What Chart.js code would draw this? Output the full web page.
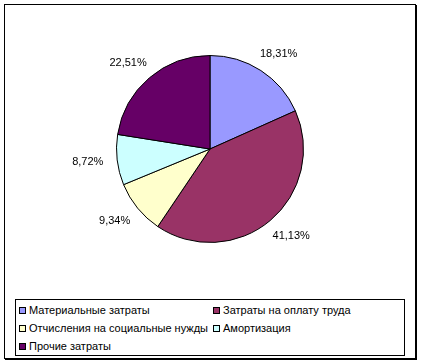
<!DOCTYPE html>
<html>
<head>
<meta charset="utf-8">
<script src="https://cdn.jsdelivr.net/npm/chart.js@4.4.1/dist/chart.umd.min.js"></script>
<style>
  html, body { margin:0; padding:0; background:#fff; }
  body { width:422px; height:364px; position:relative; overflow:hidden; font-family:Arial, "Liberation Sans", sans-serif; }
  .frame { position:absolute; left:4px; top:4px; width:410px; height:353px; border:1px solid #000; box-shadow:1px 1px 0 #000; }
  .chartbox { position:absolute; left:0; top:0; width:422px; height:298px; }
  #legend { position:absolute; left:15px; top:299px; width:388px; height:55px; border:1px solid #000; font-size:11px; color:#000; }
  #legend .entry { position:absolute; height:18px; line-height:18px; white-space:nowrap; }
  #legend .sw { display:inline-block; width:5px; height:5px; border:1px solid #000; margin-right:3px; vertical-align:0px; }
</style>
</head>
<body>
<div class="frame"></div>
<div class="chartbox"><canvas id="pie"></canvas></div>
<div id="legend"></div>
<script>
const labels = ['Материальные затраты', 'Затраты на оплату труда', 'Отчисления на социальные нужды', 'Амортизация', 'Прочие затраты'];
const values = [18.31, 41.13, 9.34, 8.72, 22.51];
const colors = ['#9999FF', '#993366', '#FFFFCC', '#CCFFFF', '#660066'];

const fmt = v => v.toFixed(2).replace('.', ',') + '%';

// подписи долей снаружи круга
const outLabels = {
  id: 'outLabels',
  afterDatasetsDraw(chart) {
    const ctx = chart.ctx;
    const meta = chart.getDatasetMeta(0);
    ctx.save();
    ctx.font = '11px Arial, "Liberation Sans", sans-serif';
    ctx.fillStyle = '#000';
    ctx.textAlign = 'center';
    ctx.textBaseline = 'middle';
    meta.data.forEach((arc, i) => {
      const p = arc.getProps(['x', 'y', 'startAngle', 'endAngle', 'outerRadius'], true);
      const mid = (p.startAngle + p.endAngle) / 2;
      const cx = Math.cos(mid), cy = Math.sin(mid);
      const txt = fmt(values[i]);
      const w = ctx.measureText(txt).width;
      const r = p.outerRadius + 14;
      const x = p.x + cx * r + cx * w / 2;
      const y = p.y + cy * r + cy * 6;
      ctx.fillText(txt, x, y);
    });
    ctx.restore();
  }
};

new Chart(document.getElementById('pie'), {
  type: 'pie',
  data: {
    labels: labels,
    datasets: [{ data: values, backgroundColor: colors, borderColor: '#000', borderWidth: 1 }]
  },
  options: {
    responsive: true,
    maintainAspectRatio: false,
    animation: false,
    layout: { padding: { left: 116, right: 118, top: 55, bottom: 55 } },
    plugins: { legend: { display: false }, tooltip: { enabled: false } }
  },
  plugins: [outLabels]
});

// легенда: две колонки
const legend = document.getElementById('legend');
labels.forEach((l, i) => {
  const el = document.createElement('div');
  el.className = 'entry';
  el.style.left = (i % 2 ? 197 : 3) + 'px';
  el.style.top = (1 + Math.floor(i / 2) * 18) + 'px';
  el.innerHTML = `<span class="sw" style="background:${colors[i]}"></span>${l}`;
  legend.appendChild(el);
});
</script>
</body>
</html>
